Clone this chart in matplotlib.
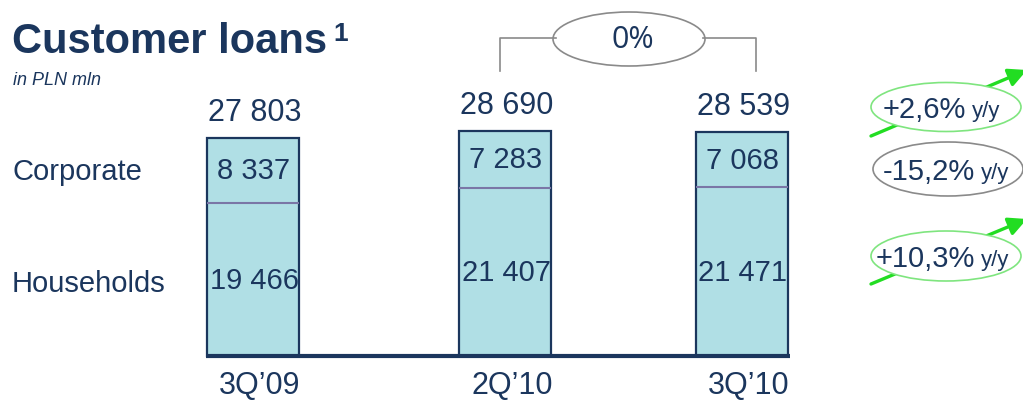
import matplotlib
matplotlib.use("Agg")
import matplotlib.pyplot as plt
from matplotlib.patches import Ellipse

# ---------------- data ----------------
quarters = ["3Q\u201909", "2Q\u201910", "3Q\u201910"]
households = [19466, 21407, 21471]
corporate = [8337, 7283, 7068]
totals = [27803, 28690, 28539]
segments = ["Corporate", "Households"]
changes = ["+2,6%", "-15,2%", "+10,3%"]
qoq_change = "0%"

# ---------------- style ----------------
navy = "#1b365d"
fill = "#b0dfe5"
divider = "#7a76a6"
green = "#22dd22"
grey = "#8a8a8a"
plt.rcParams["font.family"] = ["Liberation Sans", "DejaVu Sans"]

W, H = 1023, 406
fig = plt.figure(figsize=(W / 100, H / 100), dpi=100)

# bar axes: x in pixels, y in PLN mln (baseline at pixel row 357)
px_per_unit = 0.00785
base_px = 357
ax = fig.add_axes([0, 0, 1, 1])
ax.set_xlim(0, W)
ax.set_ylim(-(H - base_px) / px_per_unit, base_px / px_per_unit)
ax.axis("off")

xpos = [253, 505, 742]
bw = 92

ax.bar(xpos, households, width=bw, color=fill, edgecolor="none", zorder=2)
ax.bar(xpos, corporate, bottom=households, width=bw, color=fill, edgecolor="none", zorder=2)
ax.bar(xpos, totals, width=bw, fill=False, edgecolor=navy, linewidth=1.6, zorder=3)
for x, h in zip(xpos, households):
    ax.hlines(h, x - bw / 2, x + bw / 2, color=divider, linewidth=1.5, zorder=3)
ax.hlines(0, xpos[0] - bw / 2 - 1, xpos[-1] + bw / 2 + 2, color=navy, linewidth=3, zorder=4)

for x, h, c, t in zip(xpos, households, corporate, totals):
    ax.text(x + 1, h / 2, f"{h:,}".replace(",", " "), ha="center", va="center",
            fontsize=21, color=navy, zorder=5)
    ax.text(x + 1, h + c / 2, f"{c:,}".replace(",", " "), ha="center", va="center",
            fontsize=21, color=navy, zorder=5)
    ax.text(x + 2, t + 1400, f"{t:,}".replace(",", " "), ha="center", va="bottom",
            fontsize=22, color=navy, zorder=5)

# overlay axes in pixel coords for the decorations
ov = fig.add_axes([0, 0, 1, 1], facecolor="none")
ov.set_xlim(0, W)
ov.set_ylim(H, 0)
ov.axis("off")

for x, q in zip(xpos, quarters):
    ov.text(x + 7, 386, q, ha="center", va="center", fontsize=22, color=navy)

ov.text(12, 53, "Customer loans", fontsize=30, fontweight="bold", color=navy, va="baseline")
ov.text(333, 41, "1", fontsize=19, fontweight="bold", color=navy, va="baseline")
ov.text(13, 85, "in PLN mln", fontsize=13, style="italic", color=navy, va="baseline")

ov.text(12, 172, segments[0], fontsize=21, color=navy, va="center")
ov.text(12, 284, segments[1], fontsize=21, color=navy, va="center")

# q/q bracket
ov.plot([500, 500, 556], [72, 39, 39], color=grey, linewidth=1.2)
ov.plot([703, 756, 756], [39, 39, 72], color=grey, linewidth=1.2)
ov.add_patch(Ellipse((629, 40), 152, 54, facecolor="white", edgecolor=grey, linewidth=1.2))
ov.text(633, 40, qoq_change, ha="center", va="center", fontsize=22,
        family=["Open Sans", "DejaVu Sans"], color=navy)

# y/y bubbles: centre x, centre y, height, edge colour, arrow, text right edge
bubbles = [(946, 108, 49, "#7fe57f", (871, 137, 1027, 71), 966),
           (948, 170, 54, grey, None, 975),
           (946, 257, 50, "#7fe57f", (871, 285, 1027, 220), 975)]
for (cx, cy, eh, ec, arrow, tx), lab in zip(bubbles, changes):
    if arrow is not None:
        x0, y0, x1, y1 = arrow
        ov.annotate("", xy=(x1, y1), xytext=(x0, y0),
                    arrowprops=dict(arrowstyle="-|>,head_length=1.1,head_width=0.55",
                                    color=green, linewidth=2.4, shrinkA=0, shrinkB=0),
                    annotation_clip=False)
    ov.add_patch(Ellipse((cx, cy), 150, eh, facecolor="white", edgecolor=ec,
                         linewidth=1.2, zorder=3))
    ov.text(tx, cy + 2, lab, ha="right", va="center", fontsize=21, color=navy, zorder=4)
    ov.text(tx + 6, cy + 4, "y/y", ha="left", va="center", fontsize=16, color=navy, zorder=4)

fig.savefig("out.png", dpi=100)
